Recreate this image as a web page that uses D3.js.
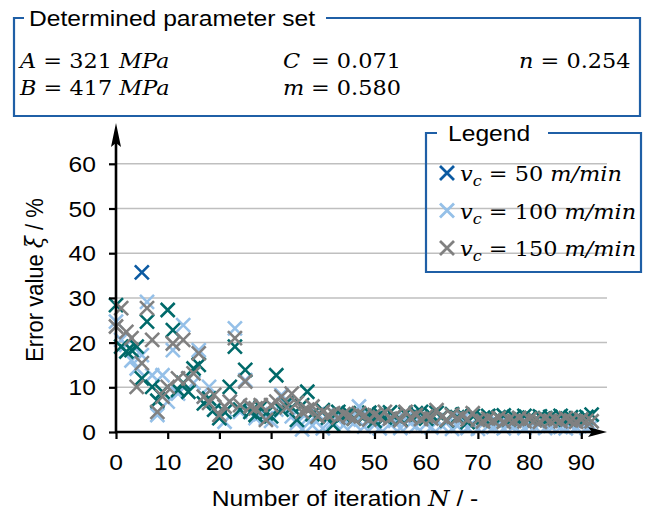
<!DOCTYPE html>
<html>
<head>
<meta charset="utf-8">
<script src="https://cdn.jsdelivr.net/npm/d3@7"></script>
<style>
  html, body { margin: 0; padding: 0; background: #fff; }
  svg { display: block; }
</style>
</head>
<body>
<svg id="chart" width="648" height="513"></svg>
<script>
// Identified Johnson-Cook parameters
const paramNames = ["A", "B", "C", "m", "n"];
const paramValues = ["321", "417", "0.071", "0.580", "0.254"];
const paramUnits = ["MPa", "MPa", "", "", ""];

// Error value per iteration
const iterations = d3.range(0, 93);

// v_c = 50 m/min
const iter50 = [5];
const err50 = [35.7];

// supplementary run
const errSup = [
  28.4, 19.1, 18.0, 18.3, 19.1, 12.0, 24.7, 10.1, 7.0, 9.0,
  27.3, 22.8, 9.4, 11.0, 9.0, 14.2, 15.0, 6.4, 7.5, 5.0,
  3.1, 4.5, 10.1, 19.1, 5.0, 13.9, 4.5, 3.8, 5.5, 4.2,
  3.5, 12.7, 5.0, 6.5, 5.5, 2.7, 6.0, 9.0, 4.0, 3.5,
  4.9, 3.2, 1.6, 4.5, 3.8, 4.2, 3.0, 4.0, 3.5, 4.3,
  2.5, 4.0, 3.2, 4.4, 3.6, 2.8, 4.0, 3.4, 4.2, 4.5,
  3.0, 3.8, 4.3, 3.5, 2.6, 4.0, 3.3, 3.9, 2.2, 3.6,
  2.8, 3.2, 3.6, 2.6, 3.3, 3.7, 2.8, 3.4, 3.1, 3.6,
  3.2, 2.7, 3.5, 3.1, 3.4, 3.0, 3.6, 2.8, 3.3, 3.1,
  2.8, 3.4, 3.9
];

// v_c = 100 m/min
const err100 = [
  24.7, 20.6, 19.5, 16.0, 14.2, 17.2, 29.1, 12.7, 3.8, 12.7,
  6.8, 18.3, 8.6, 23.9, 12.0, 11.0, 18.3, 7.9, 10.1, 5.0,
  3.1, 2.3, 6.8, 23.2, 4.5, 11.6, 5.7, 3.1, 4.0, 3.1,
  2.5, 5.0, 8.3, 6.0, 3.5, 2.0, 0.6, 3.0, 1.5, 4.0,
  0.8, 3.0, 2.2, 3.6, 1.5, 2.8, 2.0, 5.7, 1.2, 3.0,
  1.6, 0.8, 3.2, 1.8, 2.5, 0.9, 3.0, 2.0, 1.3, 3.4,
  1.8, 1.0, 2.6, 1.5, 2.2, 0.7, 1.4, 2.9, 0.9, 1.8,
  0.7, 2.3, 1.4, 1.1, 1.9, 0.8, 1.7, 1.3, 2.1, 0.9,
  1.5, 1.2, 1.9, 0.9, 1.4, 1.7, 1.1, 0.8, 1.4, 1.1,
  1.7, 0.9, 1.3
];

// v_c = 150 m/min
const err150 = [
  23.6, 27.7, 22.4, 21.0, 10.1, 15.4, 27.7, 20.6, 4.5, 7.9,
  10.1, 19.8, 12.0, 20.6, 12.0, 13.1, 17.6, 7.9, 6.5, 8.3,
  3.8, 5.7, 6.8, 21.0, 6.0, 11.3, 5.7, 5.3, 6.0, 2.7,
  6.0, 6.8, 7.9, 5.5, 8.6, 6.5, 4.5, 5.0, 5.7, 3.5,
  4.5, 3.8, 4.2, 3.2, 4.0, 3.5, 3.0, 4.2, 3.6, 2.8,
  3.8, 3.3, 4.5, 3.0, 3.7, 2.6, 4.5, 3.2, 3.8, 2.9,
  3.5, 3.0, 4.9, 3.4, 2.7, 3.8, 3.1, 3.6, 2.8, 4.2,
  2.7, 2.4, 3.0, 2.6, 3.1, 2.3, 2.8, 2.5, 3.1, 2.4,
  2.9, 2.6, 2.3, 3.0, 2.5, 2.8, 2.4, 3.1, 2.6, 2.3,
  2.8, 2.5, 2.4
];

const xTicks = [0, 10, 20, 30, 40, 50, 60, 70, 80, 90];
const yTicks = [0, 10, 20, 30, 40, 50, 60];
const legendSpeeds = ["50", "100", "150"];

const COL_BLUE = "#0b5aa2";
const COL_TEAL = "#006a6a";
const COL_LIGHT = "#95c0e8";
const COL_GRAY = "#808080";
const COL_FRAME = "#1f5fa6";

const SX = 1.12;            // horizontal stretch of lettering
const SANS = "'Liberation Sans', Arial, sans-serif";
const SERIF = "'DejaVu Serif', serif";

const svg = d3.select("#chart");

// text helper: parts = [{t, it, sub, font}]
function label(g, x, y, parts, o = {}) {
  const t = g.append("text")
    .attr("transform", `translate(${x},${y}) scale(${SX},1)` + (o.rotate ? ` rotate(${o.rotate})` : ""))
    .attr("text-anchor", o.anchor || "start")
    .attr("font-family", o.font || SANS)
    .attr("font-size", o.size || 22)
    .attr("fill", "#000");
  let shifted = false;
  parts.forEach(p => {
    const s = t.append("tspan").text(p.t);
    if (p.it) s.attr("font-style", "italic");
    if (p.font) s.attr("font-family", p.font);
    if (p.sub) { s.attr("font-size", (o.size || 22) * 0.72).attr("dy", 5); shifted = true; }
    else if (shifted) { s.attr("dy", -5); shifted = false; }
  });
  return t;
}

// ---------- scales ----------
const x = d3.scaleLinear().domain([0, 90]).range([116, 581.3]);
const y = d3.scaleLinear().domain([0, 60]).range([432, 163.8]);
const xEnd = 607;

// ---------- grid ----------
const grid = svg.append("g");
grid.selectAll("line").data(yTicks.filter(v => v > 0)).join("line")
  .attr("x1", x(0)).attr("x2", xEnd)
  .attr("y1", d => y(d)).attr("y2", d => y(d))
  .attr("stroke", "#bfbfbf").attr("stroke-width", 1.5);

// ---------- markers ----------
const plot = svg.append("g");
function cross(sel, half, color, width) {
  sel.append("path")
    .attr("d", `M${-half},${-half}L${half},${half}M${-half},${half}L${half},${-half}`)
    .attr("stroke", color).attr("stroke-width", width).attr("fill", "none");
}
function drawSeries(ns, vs, color) {
  const g = plot.append("g");
  vs.forEach((v, i) => {
    const m = g.append("g").attr("transform", `translate(${x(ns[i])},${y(v)})`);
    cross(m, 7, color, 2.6);
  });
}
drawSeries(iterations, err100, COL_LIGHT);
drawSeries(iterations, errSup, COL_TEAL);
drawSeries(iterations, err150, COL_GRAY);
drawSeries(iter50, err50, COL_BLUE);

// ---------- axes ----------
const axX = svg.append("g").attr("transform", `translate(0,${y(0)})`)
  .call(d3.axisBottom(x).tickValues(xTicks).tickSize(7).tickFormat(""));
axX.select(".domain").remove();
axX.selectAll(".tick line").attr("stroke", "#000").attr("stroke-width", 2.2);

const axY = svg.append("g").attr("transform", `translate(${x(0)},0)`)
  .call(d3.axisLeft(y).tickValues(yTicks).tickSize(7).tickFormat(""));
axY.select(".domain").remove();
axY.selectAll(".tick line").attr("stroke", "#000").attr("stroke-width", 2.2);

svg.append("line").attr("x1", x(0) - 1).attr("x2", 592).attr("y1", y(0)).attr("y2", y(0))
  .attr("stroke", "#000").attr("stroke-width", 2.6);
svg.append("path").attr("d", `M${xEnd},${y(0)}L588,${y(0) - 5}L592,${y(0)}L588,${y(0) + 5}Z`).attr("fill", "#000");
svg.append("line").attr("x1", x(0)).attr("x2", x(0)).attr("y1", y(0) + 1).attr("y2", 140)
  .attr("stroke", "#000").attr("stroke-width", 2.6);
svg.append("path").attr("d", `M${x(0)},123L${x(0) - 5},147L${x(0)},143L${x(0) + 5},147Z`).attr("fill", "#000");

xTicks.forEach(v => label(svg, x(v), 470, [{ t: String(v) }], { anchor: "middle" }));
yTicks.forEach(v => label(svg, 96, y(v) + 8, [{ t: String(v) }], { anchor: "end" }));

label(svg, 345, 506, [{ t: "Number of iteration " }, { t: "N", it: true, font: SERIF }, { t: " / -" }], { anchor: "middle" });
label(svg, 43, 280, [{ t: "Error value " }, { t: "ξ", it: true, font: SERIF }, { t: " / %" }], { anchor: "middle", rotate: -90 });

// ---------- parameter box ----------
function framed(x0, y0, x1, y1, titleX0, titleX1) {
  svg.append("path")
    .attr("d", `M${titleX0},${y0}H${x0}V${y1}H${x1}V${y0}H${titleX1}`)
    .attr("fill", "none").attr("stroke", COL_FRAME).attr("stroke-width", 2.2);
}
framed(14, 18, 640, 116, 24, 326);
label(svg, 29, 26, [{ t: "Determined parameter set" }]);

const serif = { font: SERIF, size: 20 };
function param(i) { return paramValues[i]; }
label(svg, 20, 68, [{ t: paramNames[0], it: true }, { t: " = " + param(0) + " " }, { t: paramUnits[0], it: true }], serif);
label(svg, 20, 95, [{ t: paramNames[1], it: true }, { t: " = " + param(1) + " " }, { t: paramUnits[1], it: true }], serif);
label(svg, 283, 68, [{ t: paramNames[2], it: true }], serif);
label(svg, 311, 68, [{ t: "= " + param(2) }], serif);
label(svg, 283, 95, [{ t: paramNames[3], it: true }], serif);
label(svg, 311, 95, [{ t: "= " + param(3) }], serif);
label(svg, 519, 68, [{ t: paramNames[4], it: true }, { t: " = " + param(4) }], serif);

// ---------- legend ----------
framed(426, 133, 641, 272, 437, 548);
label(svg, 448, 141, [{ t: "Legend" }]);
const legendColors = [COL_BLUE, COL_LIGHT, COL_GRAY];
legendSpeeds.forEach((s, i) => {
  const cy = 173 + i * 37.5;
  const m = svg.append("g").attr("transform", `translate(447,${cy})`);
  cross(m, 7, legendColors[i], 2.8);
  label(svg, 460, cy + 8, [
    { t: "v", it: true }, { t: "c", it: true, sub: true },
    { t: " = " + s + " " }, { t: "m/min", it: true }
  ], serif);
});
</script>
</body>
</html>
